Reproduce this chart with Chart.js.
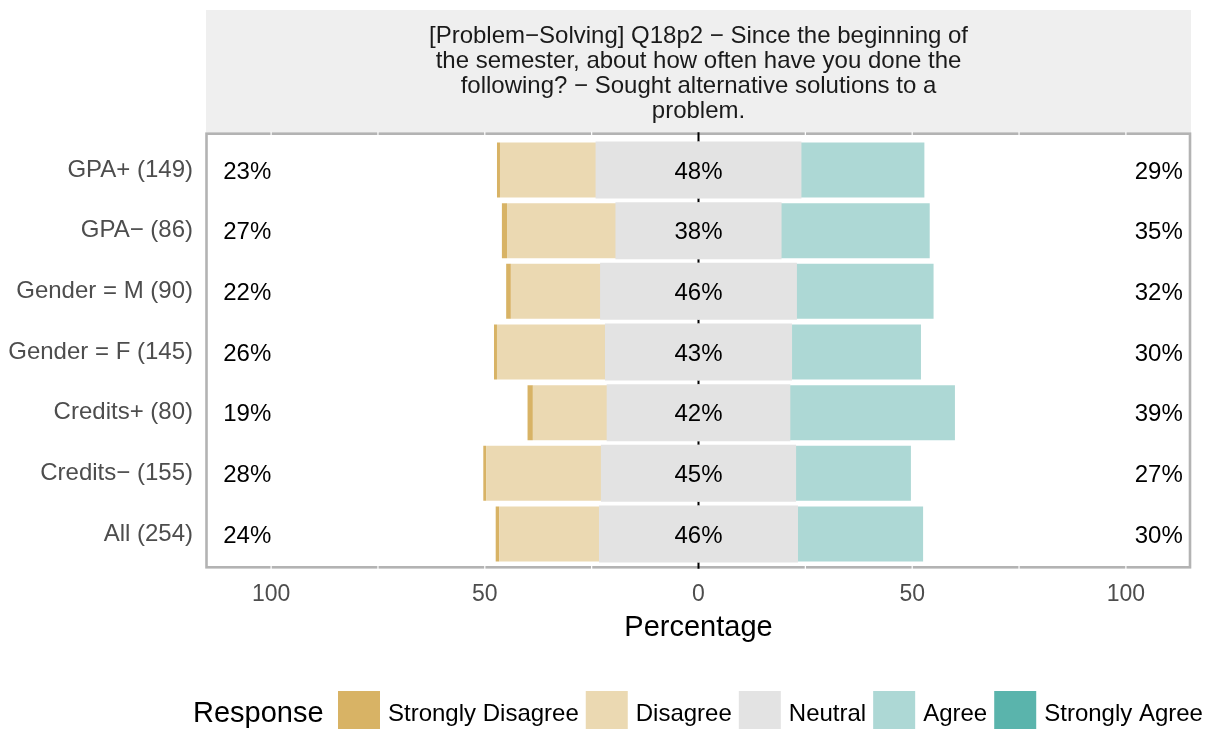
<!DOCTYPE html>
<html>
<head>
<meta charset="utf-8">
<script src="https://cdn.jsdelivr.net/npm/chart.js@4"></script>
<style>
  html, body { margin: 0; padding: 0; background: #fff; }
  #wrap { width: 1216px; height: 729px; position: relative; }
</style>
</head>
<body>
<div id="wrap"><canvas id="myChart" width="1216" height="729"></canvas></div>
<script>
const groups = ["GPA+ (149)", "GPA\u2212 (86)", "Gender = M (90)", "Gender = F (145)", "Credits+ (80)", "Credits\u2212 (155)", "All (254)"];

// percentages per response level
const stronglyDisagree = [0.7, 1.2, 1.1, 0.7, 1.25, 0.65, 0.8];
const disagree = [22.6, 25.6, 21.1, 25.5, 17.5, 27.1, 23.6];
const neutral = [47.7, 38.4, 45.6, 43.3, 42.5, 45.2, 46.1];
const agree = [29.0, 34.9, 32.2, 30.4, 38.75, 27.1, 29.5];
const stronglyAgree = [0, 0, 0, 0, 0, 0, 0];

// printed labels
const lowLabels = ["23%", "27%", "22%", "26%", "19%", "28%", "24%"];
const midLabels = ["48%", "38%", "46%", "43%", "42%", "45%", "46%"];
const highLabels = ["29%", "35%", "32%", "30%", "39%", "27%", "30%"];

const xTicks = [-100, -75, -50, -25, 0, 25, 50, 75, 100];

const levels = ["Strongly Disagree", "Disagree", "Neutral", "Agree", "Strongly Agree"];
const colors = ["#d8b365", "#ebd9b2", "#e3e3e3", "#add8d5", "#5ab4ac"];

const titleLines = [
  "[Problem\u2212Solving] Q18p2 \u2212 Since the beginning of",
  "the semester, about how often have you done the",
  "following? \u2212 Sought alternative solutions to a",
  "problem."
];

const FONT = "'Liberation Sans', Arial, Helvetica, sans-serif";

const neg = (arr) => arr.map((v) => -v);
const half = (arr, s) => arr.map((v) => (s * v) / 2);

const data = {
  labels: groups,
  datasets: [
    { label: "Neutral", data: half(neutral, -1), backgroundColor: colors[2], inflateAmount: 1 },
    { label: "Disagree", data: neg(disagree), backgroundColor: colors[1] },
    { label: "Strongly Disagree", data: neg(stronglyDisagree), backgroundColor: colors[0] },
    { label: "Neutral", data: half(neutral, 1), backgroundColor: colors[2], inflateAmount: 1 },
    { label: "Agree", data: agree, backgroundColor: colors[3] },
    { label: "Strongly Agree", data: stronglyAgree, backgroundColor: colors[4] },
  ],
};

// strip, panel border, grid and the zero line behind the bars, text labels, legend
const panelPlugin = {
  id: "panel",
  beforeDraw(chart) {
    const { ctx, chartArea } = chart;
    const left = chartArea.left, right = chartArea.right;
    ctx.save();
    ctx.fillStyle = "#efefef";
    ctx.fillRect(left - 1, 10, right - left + 2, chartArea.top - 6 - 10);
    ctx.fillStyle = "#1a1a1a";
    ctx.font = "24px " + FONT;
    ctx.textAlign = "center";
    ctx.textBaseline = "middle";
    const cx = (left + right) / 2;
    titleLines.forEach((line, i) => ctx.fillText(line, cx, 36.5 + i * 25));
    ctx.restore();
  },
  beforeDatasetsDraw(chart) {
    const { ctx, chartArea, scales } = chart;
    const x = scales.x;
    const top = chartArea.top - 6, bottom = chartArea.bottom + 3;
    ctx.save();
    ctx.strokeStyle = "#b3b3b3";
    ctx.lineWidth = 2.6;
    ctx.strokeRect(chartArea.left - 0.5, top, chartArea.right - chartArea.left + 0.5, bottom - top);
    ctx.strokeStyle = "#ffffff";
    ctx.lineWidth = 1.2;
    xTicks.filter((v) => v !== 0).forEach((v) => {
      const px = x.getPixelForValue(v);
      ctx.beginPath();
      ctx.moveTo(px, top - 2);
      ctx.lineTo(px, bottom + 2);
      ctx.stroke();
    });
    ctx.strokeStyle = "#000000";
    ctx.lineWidth = 2;
    const z = x.getPixelForValue(0);
    ctx.beginPath();
    ctx.moveTo(z, top - 1.5);
    ctx.lineTo(z, bottom + 1.5);
    ctx.stroke();
    ctx.restore();
  },
  afterDatasetsDraw(chart) {
    const { ctx, scales } = chart;
    const x = scales.x, y = scales.y;
    ctx.save();
    ctx.font = "24px " + FONT;
    ctx.fillStyle = "#000000";
    ctx.textBaseline = "middle";
    groups.forEach((g, i) => {
      const py = y.getPixelForValue(i) + 2;
      ctx.textAlign = "left";
      ctx.fillText(lowLabels[i], x.getPixelForValue(-111.2), py);
      ctx.textAlign = "center";
      ctx.fillText(midLabels[i], x.getPixelForValue(0), py);
      ctx.textAlign = "right";
      ctx.fillText(highLabels[i], x.getPixelForValue(113.3), py);
    });
    ctx.restore();
  },
  afterDraw(chart) {
    const { ctx } = chart;
    const cy = 712;
    ctx.save();
    ctx.textBaseline = "middle";
    ctx.textAlign = "left";
    ctx.fillStyle = "#000000";
    ctx.font = "29px " + FONT;
    ctx.fillText("Response", 193, cy + 2);
    ctx.font = "24px " + FONT;
    let px = 338;
    levels.forEach((lv, i) => {
      ctx.fillStyle = colors[i];
      ctx.fillRect(px, cy - 21, 42, 42);
      ctx.fillStyle = "#000000";
      ctx.fillText(lv, px + 50, cy + 2);
      px += 50 + ctx.measureText(lv).width + 7;
    });
    ctx.restore();
  },
};

const config = {
  type: "bar",
  data: data,
  options: {
    indexAxis: "y",
    responsive: false,
    animation: false,
    layout: {
      padding: { left: 0, right: 26, top: 139.7, bottom: 82.7 },
    },
    plugins: {
      legend: { display: false },
      tooltip: { enabled: false },
    },
    datasets: {
      bar: { categoryPercentage: 1, barPercentage: 0.906, borderWidth: 0 },
    },
    scales: {
      x: {
        stacked: true,
        min: -115,
        max: 115,
        grid: { display: false, drawTicks: false },
        border: { display: false },
        afterBuildTicks: (scale) => {
          scale.ticks = xTicks.map((v) => ({ value: v }));
        },
        ticks: {
          autoSkip: false,
          maxRotation: 0,
          padding: 17,
          color: "#4d4d4d",
          font: { family: FONT, size: 23 },
          callback: (value) => {
            return value % 50 === 0 ? "" + Math.abs(value) : "";
          },
        },
        title: {
          display: true,
          text: "Percentage",
          color: "#000000",
          font: { family: FONT, size: 29 },
          padding: { top: 0, bottom: 1 },
        },
        afterFit: (scale) => {
          scale.height = 82;
        },
      },
      y: {
        stacked: true,
        grid: { display: false, drawTicks: false },
        border: { display: false },
        ticks: {
          padding: 14,
          color: "#4d4d4d",
          font: { family: FONT, size: 24 },
        },
        afterFit: (scale) => {
          scale.width = 207;
        },
      },
    },
  },
  plugins: [panelPlugin],
};

const myChart = new Chart(document.getElementById("myChart").getContext("2d"), config);
</script>
</body>
</html>
